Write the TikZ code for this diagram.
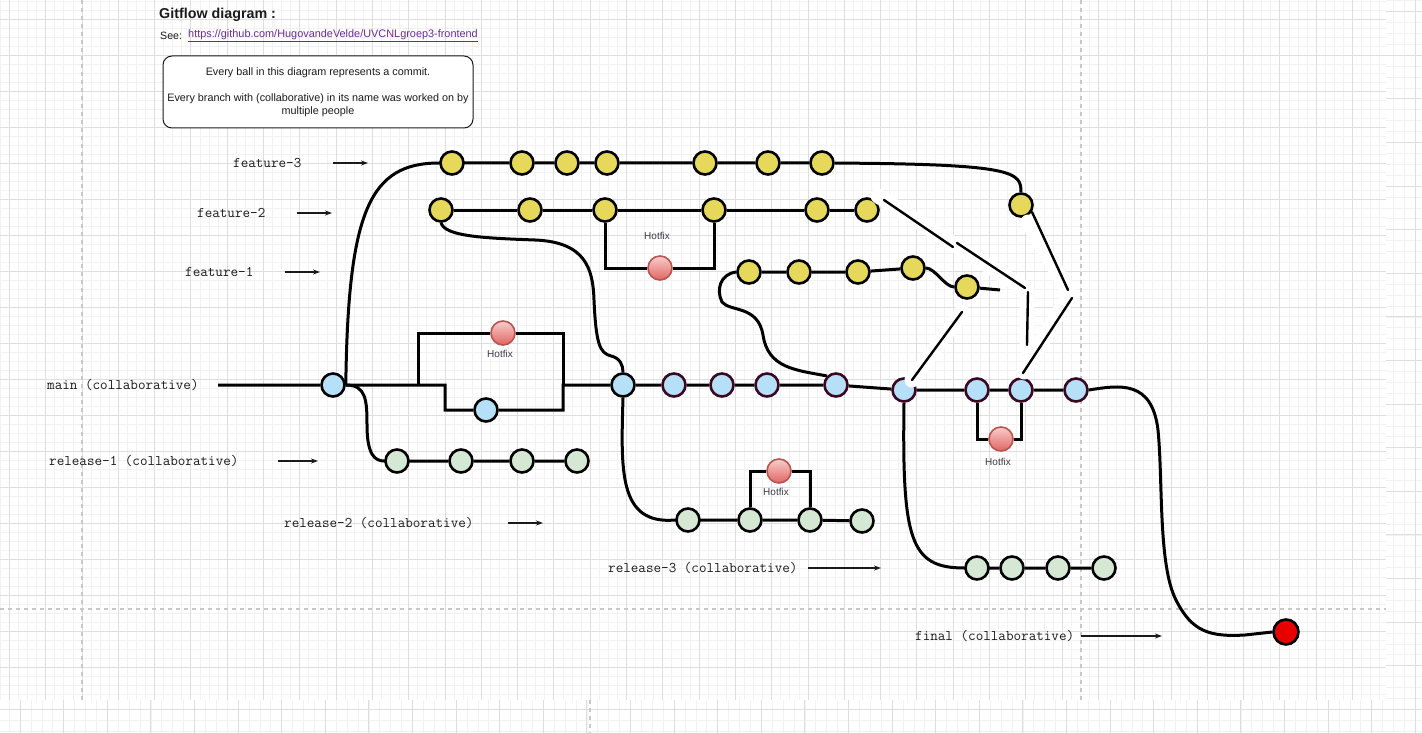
\documentclass[tikz,border=0pt]{standalone}
\usepackage{fontspec}
\setmainfont{Liberation Sans}
\usetikzlibrary{arrows.meta,calc}
\definecolor{cyel}{HTML}{E6D85A}
\definecolor{cblu}{HTML}{B5E0F8}
\definecolor{cgrn}{HTML}{D5E8D4}
\definecolor{cmaroon}{HTML}{3A0820}
\definecolor{chotA}{HTML}{F8CECC}
\definecolor{chotB}{HTML}{E06663}
\definecolor{chotline}{HTML}{B85450}
\definecolor{cfinal}{HTML}{E60000}
\definecolor{gmaj}{HTML}{DEDEDE}
\definecolor{gmin}{HTML}{F2F2F2}
\definecolor{gdash}{HTML}{C8C8C8}
\definecolor{clink}{HTML}{6A2C91}
\definecolor{ink}{HTML}{1A1A1A}
\definecolor{ink2}{HTML}{3A3A48}

\pgfdeclarelayer{back}
\pgfsetlayers{back,main}

\tikzset{
  commit/.style={circle,draw=black,line width=2.6pt,minimum size=23pt,inner sep=0pt},
  ycommit/.style={commit,fill=cyel},
  bcommit/.style={commit,fill=cblu},
  mcommit/.style={commit,fill=cblu,draw=cmaroon},
  gcommit/.style={commit,fill=cgrn},
  hotfix/.style={circle,draw=chotline,line width=1.6pt,minimum size=24pt,inner sep=0pt,top color=chotA,bottom color=chotB},
  fcommit/.style={commit,fill=cfinal,minimum size=25pt},
  branch/.style={line width=3pt,black},
  sketch/.style={line width=2.4pt,black,line cap=round},
  halo/.style={line width=15pt,white,line cap=round,line join=round},
  brlabel/.style={font=\ttfamily\fontsize{14.7}{16}\selectfont,text=ink,inner sep=0pt},
  hflabel/.style={font=\fontsize{10}{11}\selectfont,text=ink2,inner sep=0pt},
  ptr/.style={-{Stealth[length=7pt,width=5pt]},line width=1.1pt,ink},
  gridmin/.style={gmin,line width=0.6pt},
  gridmaj/.style={gmaj,line width=0.8pt},
  guide/.style={gdash,line width=1.2pt,dash pattern=on 4pt off 4pt}
}

\begin{document}
\begin{tikzpicture}[x=1pt,y=-1pt]
  \useasboundingbox (0,0) rectangle (1422,733);

  % background grid
  \begin{pgfonlayer}{back}
    \fill[white] (0,0) rectangle (1422,733);
    \foreach \i in {0,...,152} \draw[gridmin] ({0.2+9.075*\i},0) -- ({0.2+9.075*\i},700);
    \foreach \i in {0,...,77} \draw[gridmin] (0,{1.3+9*\i}) -- (1386,{1.3+9*\i});
    \foreach \i in {0,...,37} \draw[gridmaj] ({9.3+36.3*\i},0) -- ({9.3+36.3*\i},700);
    \foreach \i in {0,...,18} \draw[gridmaj] (0,{19.3+36*\i}) -- (1386,{19.3+36*\i});
    \begin{scope}
      \clip (0,700) rectangle (1422,733) (1386,0) rectangle (1422,700);
      \fill[white] (0,0) rectangle (1422,733);
      \foreach \i in {0,...,130} \draw[gridmin] ({9.1+10.9*\i},0) -- ({9.1+10.9*\i},733);
      \foreach \i in {0,...,67} \draw[gridmin] (0,{0.7+10.9*\i}) -- (1422,{0.7+10.9*\i});
      \foreach \i in {0,...,32} \draw[gridmaj] ({20+43.6*\i},0) -- ({20+43.6*\i},733);
      \foreach \i in {0,...,16} \draw[gridmaj] (0,{11.6+43.6*\i}) -- (1422,{11.6+43.6*\i});
    \end{scope}
    \draw[guide] (82,0) -- (82,700);
    \draw[guide] (1081,0) -- (1081,700);
    \draw[guide] (590,700) -- (590,733);
    \draw[guide] (0,609) -- (1386,609);
  \end{pgfonlayer}

  % heading and note
  \node[font=\bfseries\fontsize{14.3}{16}\selectfont,anchor=west,inner sep=0pt,text=ink] (title) at (159,15) {Gitflow diagram :};
  \node[font=\fontsize{10.6}{12}\selectfont,anchor=west,inner sep=0pt,text=ink] (see) at (160,36) {See:};
  \node[font=\fontsize{10.9}{12}\selectfont,anchor=west,inner sep=0pt,text=clink] (link) at (188,36) {\underline{https://github.com/HugovandeVelde/UVCNLgroep3-frontend}};
  \node[draw=ink,line width=1pt,rounded corners=9pt,fill=white,minimum width=310pt,minimum height=72pt,
        align=center,font=\fontsize{10.8}{12.5}\selectfont,text=ink] (note) at (318,92)
    {Every ball in this diagram represents a commit.\\[14pt]Every branch with (collaborative) in its name was worked on by\\multiple people};

  % branch labels
  \node[brlabel,anchor=west] (lblm) at (47,385) {main (collaborative)};
  \foreach \nm/\txt/\lx/\yy/\ax/\bx in {
      f3/feature-3/233/163/333/368,
      f2/feature-2/197/213/297/332,
      f1/feature-1/185/272/285/320,
      r1/release-1 (collaborative)/49/461/278/318,
      r2/release-2 (collaborative)/284/523/508/543,
      r3/release-3 (collaborative)/608/568/808/881,
      fi/final (collaborative)/915/636/1081/1162} {
    \node[brlabel,anchor=west] (lbl\nm) at (\lx,\yy) {\txt};
    \coordinate (tail\nm) at (\ax,\yy);
    \coordinate (tip\nm) at (\bx,\yy);
    \draw[ptr] (tail\nm) -- (tip\nm);
  }

  % commits
  \foreach \n/\xx in {a/452,b/522,c/567,d/607,e/705,f/768,g/822}
    \node[ycommit] (f3\n) at (\xx,163) {};
  \node[ycommit] (f3h) at (1021,205) {};
  \foreach \n/\xx in {a/441,b/530,c/605,d/714,e/817,f/867}
    \node[ycommit] (f2\n) at (\xx,210) {};
  \foreach \n/\xx/\yy in {a/749/272,b/799/272,c/858/272,d/913/268,e/967/287}
    \node[ycommit] (f1\n) at (\xx,\yy) {};
  \node[bcommit] (m1) at (333,385) {};
  \node[bcommit] (m2) at (486,410) {};
  \node[bcommit] (m3) at (623,385) {};
  \foreach \n/\xx/\yy in {4/674/385,5/722/385,6/767/385,7/836/385,8/904/390,9/977/390,10/1021/390,11/1076/390}
    \node[mcommit] (m\n) at (\xx,\yy) {};
  \foreach \n/\xx in {a/397,b/461,c/522,d/577}
    \node[gcommit] (r1\n) at (\xx,461) {};
  \foreach \n/\xx/\yy in {a/688/520,b/750/520,c/810/520,d/862/521}
    \node[gcommit] (r2\n) at (\xx,\yy) {};
  \foreach \n/\xx in {a/977,b/1012,c/1058,d/1104}
    \node[gcommit] (r3\n) at (\xx,568) {};
  \node[fcommit] (final) at (1286,632) {};

  % hotfixes
  \foreach \n/\xx/\yy/\ly in {1/503/333/354,2/660/268/236,3/779/471/492,4/1001/439/462} {
    \node[hotfix] (h\n) at (\xx,\yy) {};
    \node[hflabel] (hl\n) at ({\xx-3},\ly) {Hotfix};
  }

  \coordinate (mstart) at (218,385);
  \coordinate (j0) at (418,385);
  \coordinate (j1) at (445,385);
  \coordinate (j2) at (563,385);
  \coordinate (f1end) at (1000,290);

  % branches
  \begin{pgfonlayer}{back}
    \draw[branch] (mstart) -- (m1) -- (j1) |- (m2) -| (j2) -- (m3) -- (m4) -- (m5) -- (m6) -- (m7) -- (m8) -- (m9) -- (m10) -- (m11);
    \draw[branch] (j0) |- (h1) -| (j2);
    \draw[branch] (m9) |- (h4) -| (m10);
    \draw[branch] (m1.east) .. controls (348,210) and (370,163) .. (f3a.west) -- (f3b) -- (f3c) -- (f3d) -- (f3e) -- (f3f) -- (f3g)
      .. controls (1015,164) and (1021,172) .. (f3h.north);
    \draw[branch] (f2a) -- (f2b) -- (f2c) -- (f2d) -- (f2e) -- (f2f);
    \draw[branch] (f2c) |- (h2) -| (f2d);
    \draw[branch] (f2a.south) .. controls (445,236) and (480,238) .. (535,240) .. controls (585,242) and (593,268) .. (594,300)
      .. controls (596,345) and (600,353) .. (611,356) .. controls (620,358) and (623,365) .. (m3.north);
    \draw[branch] (f1a) -- (f1b) -- (f1c) -- (f1d) .. controls (935,268) and (945,287) .. (f1e) -- (f1end);
    \draw[branch] (m7.north west) .. controls (795,370) and (768,368) .. (763,335) .. controls (758,305) and (730,312) .. (722,302)
      .. controls (716,290) and (720,274) .. (f1a.west);
    \draw[branch] (m1.east) .. controls (366,385) and (367,400) .. (367,425) .. controls (367,455) and (375,461) .. (r1a.west)
      -- (r1b) -- (r1c) -- (r1d);
    \draw[branch] (m3.south) .. controls (621,470) and (618,525) .. (r2a.west) -- (r2b) -- (r2c) -- (r2d);
    \draw[branch] (r2b) |- (h3) -| (r2c);
    \draw[branch] (m8.south) .. controls (902,540) and (910,568) .. (r3a.west) -- (r3b) -- (r3c) -- (r3d);
    \draw[branch] (m11.east) .. controls (1120,385) and (1152,380) .. (1158,430) .. controls (1163,480) and (1158,565) .. (1176,600)
      .. controls (1192,632) and (1210,637) .. (1245,635) -- (final.west);
  \end{pgfonlayer}

  % merges, drawn by hand
  \coordinate (sa1) at (884,200); \coordinate (sa2) at (953,247);
  \coordinate (sb1) at (957,243); \coordinate (sb2) at (1025,288);
  \coordinate (sc1) at (1028,292); \coordinate (sc2) at (1027,345);
  \coordinate (sd1) at (1032,212); \coordinate (sd2) at (1068,290);
  \coordinate (se1) at (1072,298); \coordinate (se2) at (1023,373);
  \coordinate (sf1) at (962,312); \coordinate (sf2) at (912,380);
  \draw[halo] (878,196) -- (955,245) -- (1027,290) -- (1027,348);
  \draw[halo] (1028,222) -- (1070,294) -- (1024,372);
  \draw[halo] (sf1) -- (sf2);
  \foreach \s in {a,b,c,d,e,f}
    \draw[sketch] (s\s1) -- (s\s2);
\end{tikzpicture}
\end{document}
